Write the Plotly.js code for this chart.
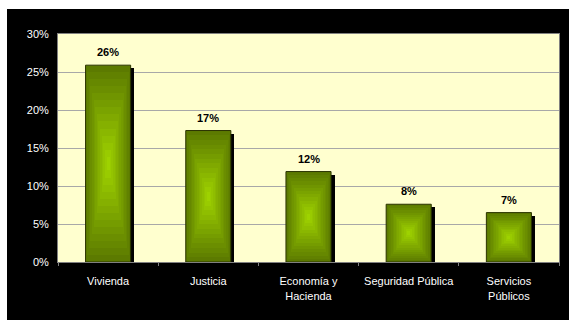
<!DOCTYPE html>
<html><head><meta charset="utf-8">
<script src="https://cdn.plot.ly/plotly-3.0.1.min.js"></script>
<style>
html,body{margin:0;padding:0;background:#ffffff;width:569px;height:320px;overflow:hidden;}
#chart{position:absolute;left:7px;top:9px;width:562px;height:311px;}
</style></head>
<body><div id="chart"></div>
<script>
var categories = ["Vivienda", "Justicia", "Economía y<br>Hacienda", "Seguridad Pública", "Servicios<br>Públicos"];
var values = [25.9, 17.3, 11.9, 7.6, 6.5];
var labels = ["26%", "17%", "12%", "8%", "7%"];
var yTicks = [0, 5, 10, 15, 20, 25, 30];
var yTickLabels = ["0%", "5%", "10%", "15%", "20%", "25%", "30%"];

var barWidth = 0.45;
var edgeColor = [92, 122, 0];
var centerColor = [158, 210, 0];
var nLayers = 14;

var traces = [];
// shadow
traces.push({
  type: 'bar', x: categories, y: values.map(function(v){return v - 0.4;}),
  width: barWidth, offset: -barWidth/2 + 0.035,
  marker: {color: '#000000', line: {width: 0}}, hoverinfo: 'skip', showlegend: false
});
for (var i = 0; i < nLayers; i++) {
  var t = i / (nLayers - 1);
  var s = 1 - t * 0.93;
  var c = edgeColor.map(function(e, k){ return Math.round(e + (centerColor[k] - e) * t); });
  traces.push({
    type: 'bar', x: categories,
    y: values.map(function(v){ return v * s; }),
    base: values.map(function(v){ return v * (1 - s) / 2; }),
    width: barWidth * s,
    marker: {color: 'rgb(' + c.join(',') + ')', line: {width: i === 0 ? 1 : 0, color: '#2b3300'}},
    hoverinfo: 'skip', showlegend: false
  });
}

var annotations = categories.map(function(c, i){
  return {x: c, y: values[i], xref: 'x', yref: 'y', text: '<b>' + labels[i] + '</b>',
    showarrow: false, yanchor: 'bottom', yshift: 5,
    font: {family: 'Liberation Sans, Arial, sans-serif', size: 11, color: '#000000'}};
});

var layout = {
  width: 562, height: 311,
  margin: {l: 51, r: 10, t: 25, b: 58},
  paper_bgcolor: '#000000', plot_bgcolor: '#FFFFCF',
  barmode: 'overlay', bargap: 0,
  font: {family: 'Liberation Sans, Arial, sans-serif', size: 11, color: '#ffffff'},
  xaxis: {
    type: 'category', showline: true, linecolor: '#808080', linewidth: 1, mirror: true,
    ticks: 'outside', tickson: 'boundaries', ticklen: 3, tickcolor: '#808080',
    tickfont: {size: 11, color: '#ffffff'}, ticklabelstandoff: 9,
    showgrid: false, fixedrange: true
  },
  yaxis: {
    range: [0, 30], tickmode: 'array', tickvals: yTicks, ticktext: yTickLabels,
    showline: true, linecolor: '#808080',
    linewidth: 1, mirror: true, gridcolor: '#A8A8A8', gridwidth: 1, zeroline: false,
    ticks: '', tickfont: {size: 11, color: '#ffffff'}, ticklabelstandoff: 6, fixedrange: true
  },
  annotations: annotations
};

Plotly.newPlot('chart', traces, layout, {displayModeBar: false, staticPlot: true});
</script></body></html>
